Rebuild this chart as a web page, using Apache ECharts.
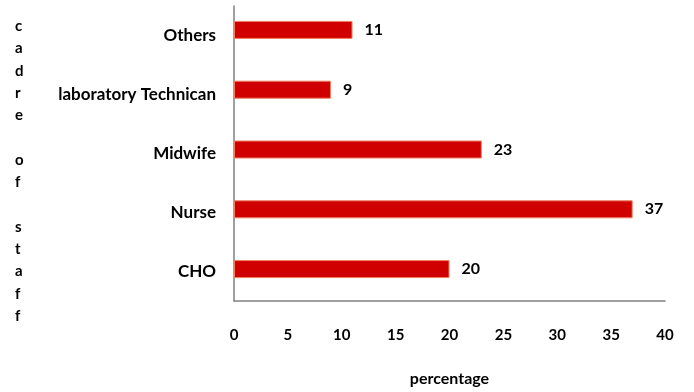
<!DOCTYPE html>
<html><head><meta charset="utf-8">
<script src="https://cdn.jsdelivr.net/npm/echarts@6/dist/echarts.min.js"></script>
<style>html,body{margin:0;padding:0;background:#fff}#c{width:694px;height:392px}</style>
</head><body><div id="c"></div>
<script>
const categories = ['CHO', 'Nurse', 'Midwife', 'laboratory Technican', 'Others'];
const values = [20, 37, 23, 9, 11];
const xTicks = [0, 5, 10, 15, 20, 25, 30, 35, 40];
const xAxisTitle = 'percentage';
const yAxisTitle = 'cadre of staff';

const font = 'Lato, "Open Sans", sans-serif';
const xMin = xTicks[0], xMax = xTicks[xTicks.length - 1];
const chart = echarts.init(document.getElementById('c'));
chart.setOption({
  animation: false,
  grid: [
    { left: 234, right: 29, top: 6, bottom: 84 },
    { left: 234, right: 29, top: -3, bottom: 93 }
  ],
  xAxis: [{
    gridIndex: 0, type: 'value', min: xMin, max: xMax, interval: 5,
    name: xAxisTitle, nameLocation: 'middle', nameGap: 70,
    nameTextStyle: { fontFamily: font, fontWeight: 'bold', fontSize: 16, color: '#000' },
    axisLine: { show: true, lineStyle: { color: '#808080', width: 1.5 } },
    axisTick: { show: false },
    splitLine: { show: false },
    axisLabel: { margin: 27, fontFamily: font, fontWeight: 'bold', fontSize: 15, color: '#000' }
  }, {
    gridIndex: 1, type: 'value', min: xMin, max: xMax, interval: 5, show: false
  }],
  yAxis: [{
    gridIndex: 0, type: 'category', data: categories,
    axisLine: { show: true, lineStyle: { color: '#808080', width: 1.5 } },
    axisTick: { show: false },
    axisLabel: { margin: 18, fontFamily: font, fontWeight: 'bold', fontSize: 17, color: '#000' }
  }, {
    gridIndex: 1, type: 'category', data: categories, show: false
  }],
  graphic: [{
    type: 'text', left: 15, top: 15,
    style: {
      text: yAxisTitle.split('').join('\n'),
      fontFamily: font, fontWeight: 'bold', fontSize: 15, lineHeight: 22.3, fill: '#000', align: 'center'
    }
  }],
  series: [{
    type: 'bar', xAxisIndex: 1, yAxisIndex: 1, data: values, barWidth: 18,
    itemStyle: { color: '#d00000', borderColor: '#f08060', borderWidth: 1 },
    label: { show: true, position: 'right', distance: 12, fontFamily: font, fontWeight: 'bold', fontSize: 16, color: '#000' }
  }]
});
</script></body></html>
